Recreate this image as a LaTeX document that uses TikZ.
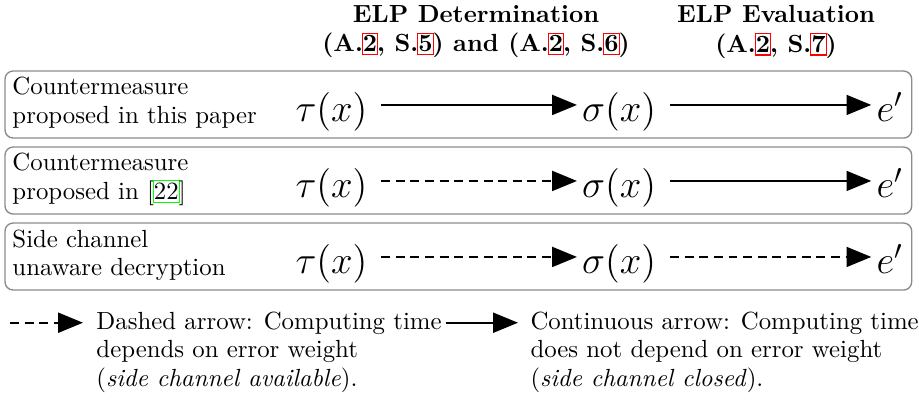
\RequirePackage{fix-cm}
\documentclass[tikz,border=0pt]{standalone}
\usetikzlibrary{arrows.meta}
% framed reference marks in the style of hyperref link borders
\newcommand\reflink[2]{{\setlength\fboxsep{0pt}\setlength\fboxrule{0.5pt}\kern-0.5pt\textcolor{#1}{\fbox{\rule[-0.9pt]{0pt}{8.1pt}\textcolor{black}{#2}}}\kern-0.5pt}}
\begin{document}
\begin{tikzpicture}[x=0.4032pt,y=-0.4032pt,
  panel/.style={draw=black!45,line width=0.55pt,rounded corners=3.3pt},
  head/.style={font=\bfseries,align=center,inner sep=0pt,anchor=north},
  rowlabel/.style={align=left,anchor=north west,inner sep=0pt,font=\fontsize{10}{11.4}\selectfont},
  term/.style={anchor=base west,inner sep=0pt,font=\fontsize{15.6}{18}\selectfont,text height=14pt,text depth=0.4pt},
  tip/.style={-{Triangle[length=10pt,width=8pt]}},
  flow/.style={line width=0.9pt,tip,shorten <=5.4pt,shorten >=1.9pt},
  leak/.style={flow,dash pattern=on 3.6pt off 2.3pt},
  note/.style={align=left,anchor=north west,inner sep=0pt,font=\fontsize{10}{11.5}\selectfont},
]
\useasboundingbox (0,0) rectangle (919,399);

% column headings
\node[head] (h1) at (476,4.7) {ELP Determination\\(A.\reflink{red}{2}, S.\reflink{red}{5}) and (A.\reflink{red}{2}, S.\reflink{red}{6})};
\node[head] (h2) at (776,4.7) {ELP Evaluation\\(A.\reflink{red}{2}, S.\reflink{red}{7})};

% panels
\draw[panel] (5,71) rectangle (911.7,138);
\draw[panel] (5,147) rectangle (911.7,214);
\draw[panel] (5,223) rectangle (911.7,290);

% row 1
\node[rowlabel] (l1) at (12,77) {Countermeasure\\proposed in this paper};
\node[term] (t1) at (295,121.8) {$\tau(x)$};
\node[term] (s1) at (581.7,121.8) {$\sigma(x)$};
\node[term] (e1) at (876,121.8) {$e'$};
\draw[flow] (t1) -- (s1);
\draw[flow] (s1) -- (e1);

% row 2
\node[rowlabel] (l2) at (12,153) {Countermeasure\\proposed in [\reflink{green}{22}]};
\node[term] (t2) at (295,197.8) {$\tau(x)$};
\node[term] (s2) at (581.7,197.8) {$\sigma(x)$};
\node[term] (e2) at (876,197.8) {$e'$};
\draw[leak] (t2) -- (s2);
\draw[flow] (s2) -- (e2);

% row 3
\node[rowlabel] (l3) at (12,229) {Side channel\\unaware decryption};
\node[term] (t3) at (295,273.8) {$\tau(x)$};
\node[term] (s3) at (581.7,273.8) {$\sigma(x)$};
\node[term] (e3) at (876,273.8) {$e'$};
\draw[leak] (t3) -- (s3);
\draw[leak] (s3) -- (e3);

% legend
\coordinate (d0) at (10,322.7);
\coordinate (d1) at (83,322.7);
\draw[line width=0.9pt,tip,dash pattern=on 3.6pt off 2.3pt] (d0) -- (d1);
\node[note] (n1) at (96,311) {Dashed arrow: Computing time\\depends on error weight\\(\textit{side channel available}).};
\coordinate (c0) at (446,322.7);
\coordinate (c1) at (518,322.7);
\draw[line width=0.9pt,tip] (c0) -- (c1);
\node[note] (n2) at (530,311) {Continuous arrow: Computing time\\does not depend on error weight\\(\textit{side channel closed}).};
\end{tikzpicture}
\end{document}
